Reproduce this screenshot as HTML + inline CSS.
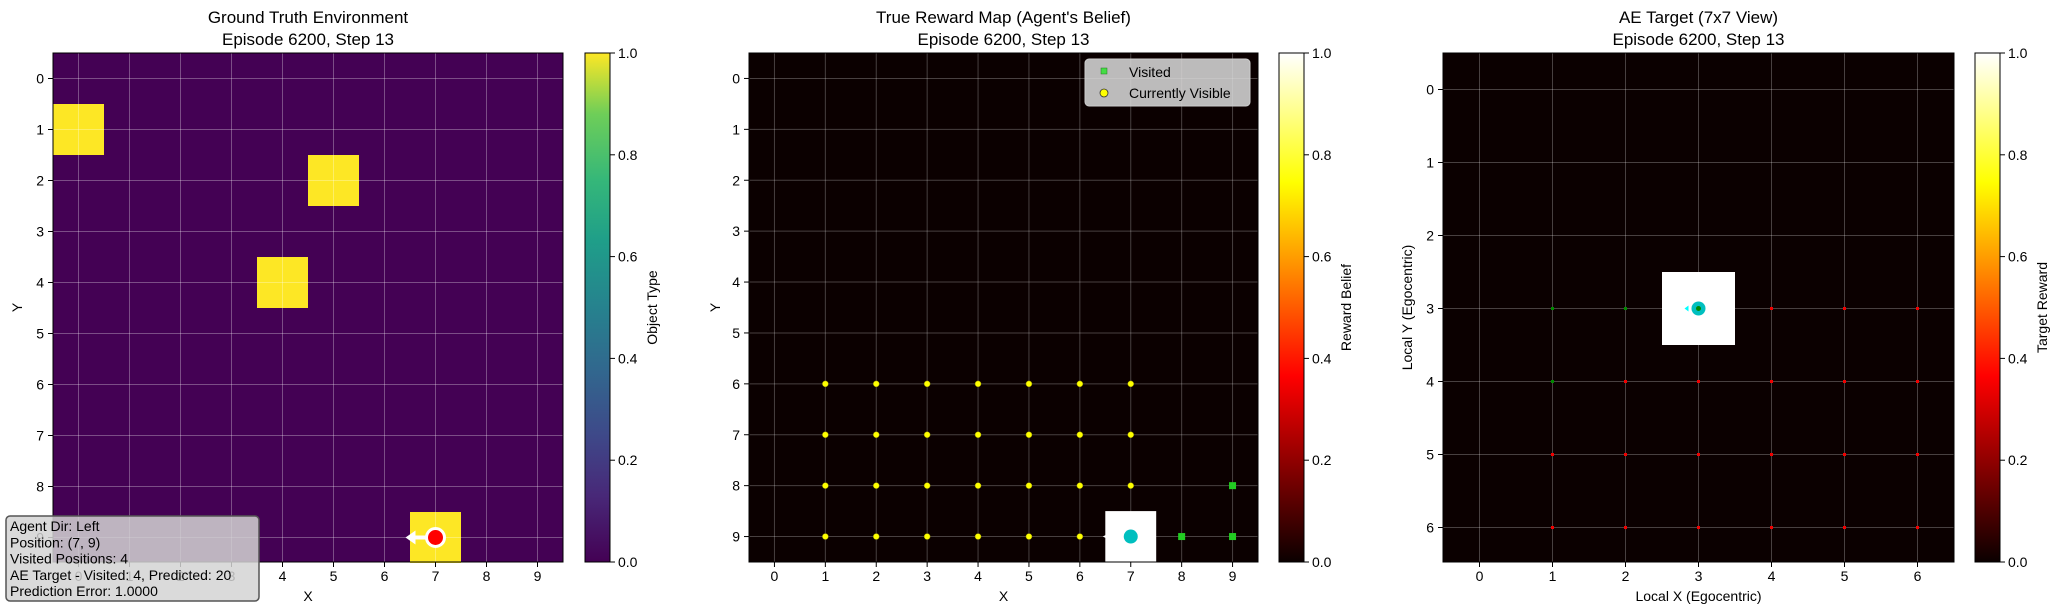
<!DOCTYPE html>
<html><head><meta charset="utf-8"><style>
body{margin:0;background:#fff;}
svg{display:block;font-family:"Liberation Sans","DejaVu Sans",sans-serif;}
</style></head><body>
<svg id="fig" width="2061" height="614" xmlns="http://www.w3.org/2000/svg">
<defs>
<linearGradient id="viridis" x1="0" y1="1" x2="0" y2="0">
<stop offset="0" stop-color="#440154"/><stop offset="0.13" stop-color="#482878"/><stop offset="0.25" stop-color="#3e4989"/><stop offset="0.38" stop-color="#31688e"/><stop offset="0.5" stop-color="#26828e"/><stop offset="0.63" stop-color="#1f9e89"/><stop offset="0.75" stop-color="#35b779"/><stop offset="0.88" stop-color="#6ece58"/><stop offset="1" stop-color="#fde725"/>
</linearGradient>
<linearGradient id="hot" x1="0" y1="1" x2="0" y2="0">
<stop offset="0" stop-color="#0b0000"/><stop offset="0.365" stop-color="#ff0000"/><stop offset="0.746" stop-color="#ffff00"/><stop offset="1" stop-color="#ffffff"/>
</linearGradient>
</defs>
<g id="root"></g>
</svg>
<script>
const envCells=[[0,1],[5,2],[4,4],[7,9]];
const agentPos=[7,9];
const visibleCells=[[1,6],[2,6],[3,6],[4,6],[5,6],[6,6],[7,6],[1,7],[2,7],[3,7],[4,7],[5,7],[6,7],[7,7],[1,8],[2,8],[3,8],[4,8],[5,8],[6,8],[7,8],[1,9],[2,9],[3,9],[4,9],[5,9],[6,9]];
const visitedCells=[[8,9],[9,9],[9,8]];
const aeGreen=[[1,3],[2,3],[1,4]];
const aeRed=[[4,3],[5,3],[6,3],[2,4],[3,4],[4,4],[5,4],[6,4],[1,5],[2,5],[3,5],[4,5],[5,5],[6,5],[1,6],[2,6],[3,6],[4,6],[5,6],[6,6]];
const aeAgent=[3,3];
const cbTicks=["0.0","0.2","0.4","0.6","0.8","1.0"];
const ticks10=[0,1,2,3,4,5,6,7,8,9];
const ticks7=[0,1,2,3,4,5,6];

const NS="http://www.w3.org/2000/svg";
const root=document.getElementById('root');
function mk(tag,attrs,parent,text){const e=document.createElementNS(NS,tag);for(const k in attrs)e.setAttribute(k,attrs[k]);if(text!==undefined)e.textContent=text;(parent||root).appendChild(e);return e;}

function panel(o){
  const g=mk('g',{});
  
  
  const cell=(o.x1-o.x0)/o.n;
  const sx=v=>o.x0+(v+0.5)*cell, sy=v=>o.y0+(v+0.5)*cell;
  mk('rect',{x:o.x0,y:o.y0,width:o.x1-o.x0,height:o.y1-o.y0,fill:o.bg},g);
  o.draw(g,sx,sy,cell);
  const grid=mk('g',{},g);
  
  
  o.ticks.forEach(t=>{
    mk('line',{x1:sx(t),x2:sx(t),y1:o.y0,y2:o.y1,stroke:o.gridc,'stroke-width':1},grid);
    mk('line',{y1:sy(t),y2:sy(t),x1:o.x0,x2:o.x1,stroke:o.gridc,'stroke-width':1},grid);
  });
  if(o.after)o.after(g,sx,sy,cell);
  mk('rect',{x:o.x0,y:o.y0,width:o.x1-o.x0,height:o.y1-o.y0,fill:'none',stroke:'#000','stroke-width':1},g);
  o.ticks.forEach(t=>{
    mk('line',{x1:sx(t),x2:sx(t),y1:o.y1,y2:o.y1+5,stroke:'#000'},g);
    const tx=mk('text',{x:sx(t),y:o.y1+19,'font-size':14,'text-anchor':'middle'},g,String(t));
    
    
    mk('line',{x1:o.x0-5,x2:o.x0,y1:sy(t),y2:sy(t),stroke:'#000'},g);
    const ty=mk('text',{x:o.x0-9,y:sy(t)+5,'font-size':14,'text-anchor':'end'},g,String(t));
    
    
  });
  const cx=(o.x0+o.x1)/2;
  const t1=mk('text',{x:cx,y:23,'font-size':17,'text-anchor':'middle'},g,o.title1);
  
  
  mk('text',{x:cx,y:45,'font-size':17,'text-anchor':'middle'},g,o.title2);
  const xl=mk('text',{x:cx,y:601,'font-size':14,'text-anchor':'middle'},g,o.xlabel);
  
  
  const yl=mk('text',{x:o.ylx,y:(o.y0+o.y1)/2,'font-size':14,'text-anchor':'middle',transform:`rotate(-90 ${o.ylx} ${(o.y0+o.y1)/2})`},g,o.ylabel);
  
  
  // colorbar
  const cb=mk('g',{},g);
  
  
  mk('rect',{x:o.cbx,y:o.y0,width:25,height:o.y1-o.y0,fill:`url(#${o.cmap})`,stroke:'#000','stroke-width':1},cb);
  cbTicks.forEach(s=>{
    const yy=o.y1-parseFloat(s)*(o.y1-o.y0);
    mk('line',{x1:o.cbx+25,x2:o.cbx+30,y1:yy,y2:yy,stroke:'#000'},cb);
    mk('text',{x:o.cbx+33,y:yy+5,'font-size':14},cb,s);
  });
  const lx=o.cbx+72, ly=(o.y0+o.y1)/2;
  const cl=mk('text',{x:lx,y:ly,'font-size':14,'text-anchor':'middle',transform:`rotate(-90 ${lx} ${ly})`},cb,o.cblabel);
  
  
}

const Y0=53,Y1=562;
panel({name:'ground-truth-panel',x0:53,x1:563,y0:Y0,y1:Y1,n:10,ticks:ticks10,bg:'#440154',gridc:'rgba(255,255,255,0.3)',
 title1:'Ground Truth Environment',title2:'Episode 6200, Step 13',xlabel:'X',ylabel:'Y',ylx:22,cbx:585,cmap:'viridis',cblabel:'Object Type',
 draw:(g,sx,sy,c)=>{envCells.forEach(p=>{const r=mk('rect',{x:sx(p[0])-c/2,y:sy(p[1])-c/2,width:c,height:c,fill:'#fde725'},g);
   
   });},
 after:(g,sx,sy,c)=>{
   const ax=sx(agentPos[0]),ay=sy(agentPos[1]);
   mk('line',{x1:ax,y1:ay,x2:ax-22,y2:ay,stroke:'#fff','stroke-width':4},g);
   mk('polygon',{points:`${ax-30},${ay} ${ax-20},${ay-7} ${ax-20},${ay+7}`,fill:'#fff'},g);
   const a=mk('circle',{cx:ax,cy:ay,r:9,fill:'#ff0000',stroke:'#fff','stroke-width':3},g);
   
   
 }});

panel({name:'reward-map-panel',x0:749,x1:1258,y0:Y0,y1:Y1,n:10,ticks:ticks10,bg:'#0b0000',gridc:'rgba(255,255,255,0.25)',
 title1:"True Reward Map (Agent's Belief)",title2:'Episode 6200, Step 13',xlabel:'X',ylabel:'Y',ylx:720,cbx:1279,cmap:'hot',cblabel:'Reward Belief',
 draw:(g,sx,sy,c)=>{const r=mk('rect',{x:sx(agentPos[0])-c/2,y:sy(agentPos[1])-c/2,width:c,height:c,fill:'#fff'},g);
   
   },
 after:(g,sx,sy,c)=>{
   visibleCells.forEach(p=>{const d=mk('circle',{cx:sx(p[0]),cy:sy(p[1]),r:3,fill:'#ffff00',stroke:'#888800','stroke-width':0.5},g);
     
     });
   visitedCells.forEach(p=>{const d=mk('rect',{x:sx(p[0])-3.5,y:sy(p[1])-3.5,width:7,height:7,fill:'#22cc22'},g);
     
     });
   const ax=sx(agentPos[0]),ay=sy(agentPos[1]);
   mk('polygon',{points:`${ax-28},${ay} ${ax-24},${ay-2} ${ax-24},${ay+2}`,fill:'#fff'},g);
   const a=mk('circle',{cx:ax,cy:ay,r:7,fill:'#00bfbf'},g);
   
   
   const lg=mk('g',{},g);
   
   
   mk('rect',{x:1085,y:59,width:165,height:47,rx:4,fill:'rgba(220,220,220,0.85)',stroke:'#ccc'},lg);
   mk('rect',{x:1101,y:68,width:6,height:6,fill:'#44dd44',stroke:'#227722','stroke-width':0.5},lg);
   const e1=mk('text',{x:1129,y:77,'font-size':14},lg,'Visited');
   
   
   mk('circle',{cx:1104,cy:93,r:4,fill:'#ffff00',stroke:'#333','stroke-width':0.8},lg);
   const e2=mk('text',{x:1129,y:98,'font-size':14},lg,'Currently Visible');
   
   
 }});

panel({name:'ae-target-panel',x0:1443,x1:1954,y0:Y0,y1:Y1,n:7,ticks:ticks7,bg:'#0b0000',gridc:'rgba(255,255,255,0.25)',
 title1:'AE Target (7x7 View)',title2:'Episode 6200, Step 13',xlabel:'Local X (Egocentric)',ylabel:'Local Y (Egocentric)',ylx:1412,cbx:1975,cmap:'hot',cblabel:'Target Reward',
 draw:(g,sx,sy,c)=>{const r=mk('rect',{x:sx(aeAgent[0])-c/2,y:sy(aeAgent[1])-c/2,width:c,height:c,fill:'#fff'},g);
   
   },
 after:(g,sx,sy,c)=>{
   aeGreen.forEach(p=>{const d=mk('rect',{x:sx(p[0])-1.5,y:sy(p[1])-1.5,width:3,height:3,fill:'#008800'},g);
     
     });
   aeRed.forEach(p=>{const d=mk('rect',{x:sx(p[0])-1.5,y:sy(p[1])-1.5,width:3,height:3,fill:'#ee0000'},g);
     
     });
   const ax=sx(aeAgent[0]),ay=sy(aeAgent[1]);
   mk('polygon',{points:`${ax-14},${ay} ${ax-10},${ay-3} ${ax-10},${ay+3}`,fill:'#00ffff'},g);
   const a=mk('circle',{cx:ax,cy:ay,r:7,fill:'#00bfbf'},g);
   
   
   mk('circle',{cx:ax,cy:ay,r:2.5,fill:'#008800'},g);
 }});

// info box
const ib=mk('g',{});


mk('rect',{x:6,y:516,width:253,height:85,rx:4,fill:'rgba(211,211,211,0.85)',stroke:'#555','stroke-width':1.5},ib);
["Agent Dir: Left","Position: (7, 9)","Visited Positions: 4","AE Target - Visited: 4, Predicted: 20","Prediction Error: 1.0000"].forEach((s,i)=>{
  mk('text',{x:10,y:531+i*16.3,'font-size':14},ib,s);
});
</script>
</body></html>
